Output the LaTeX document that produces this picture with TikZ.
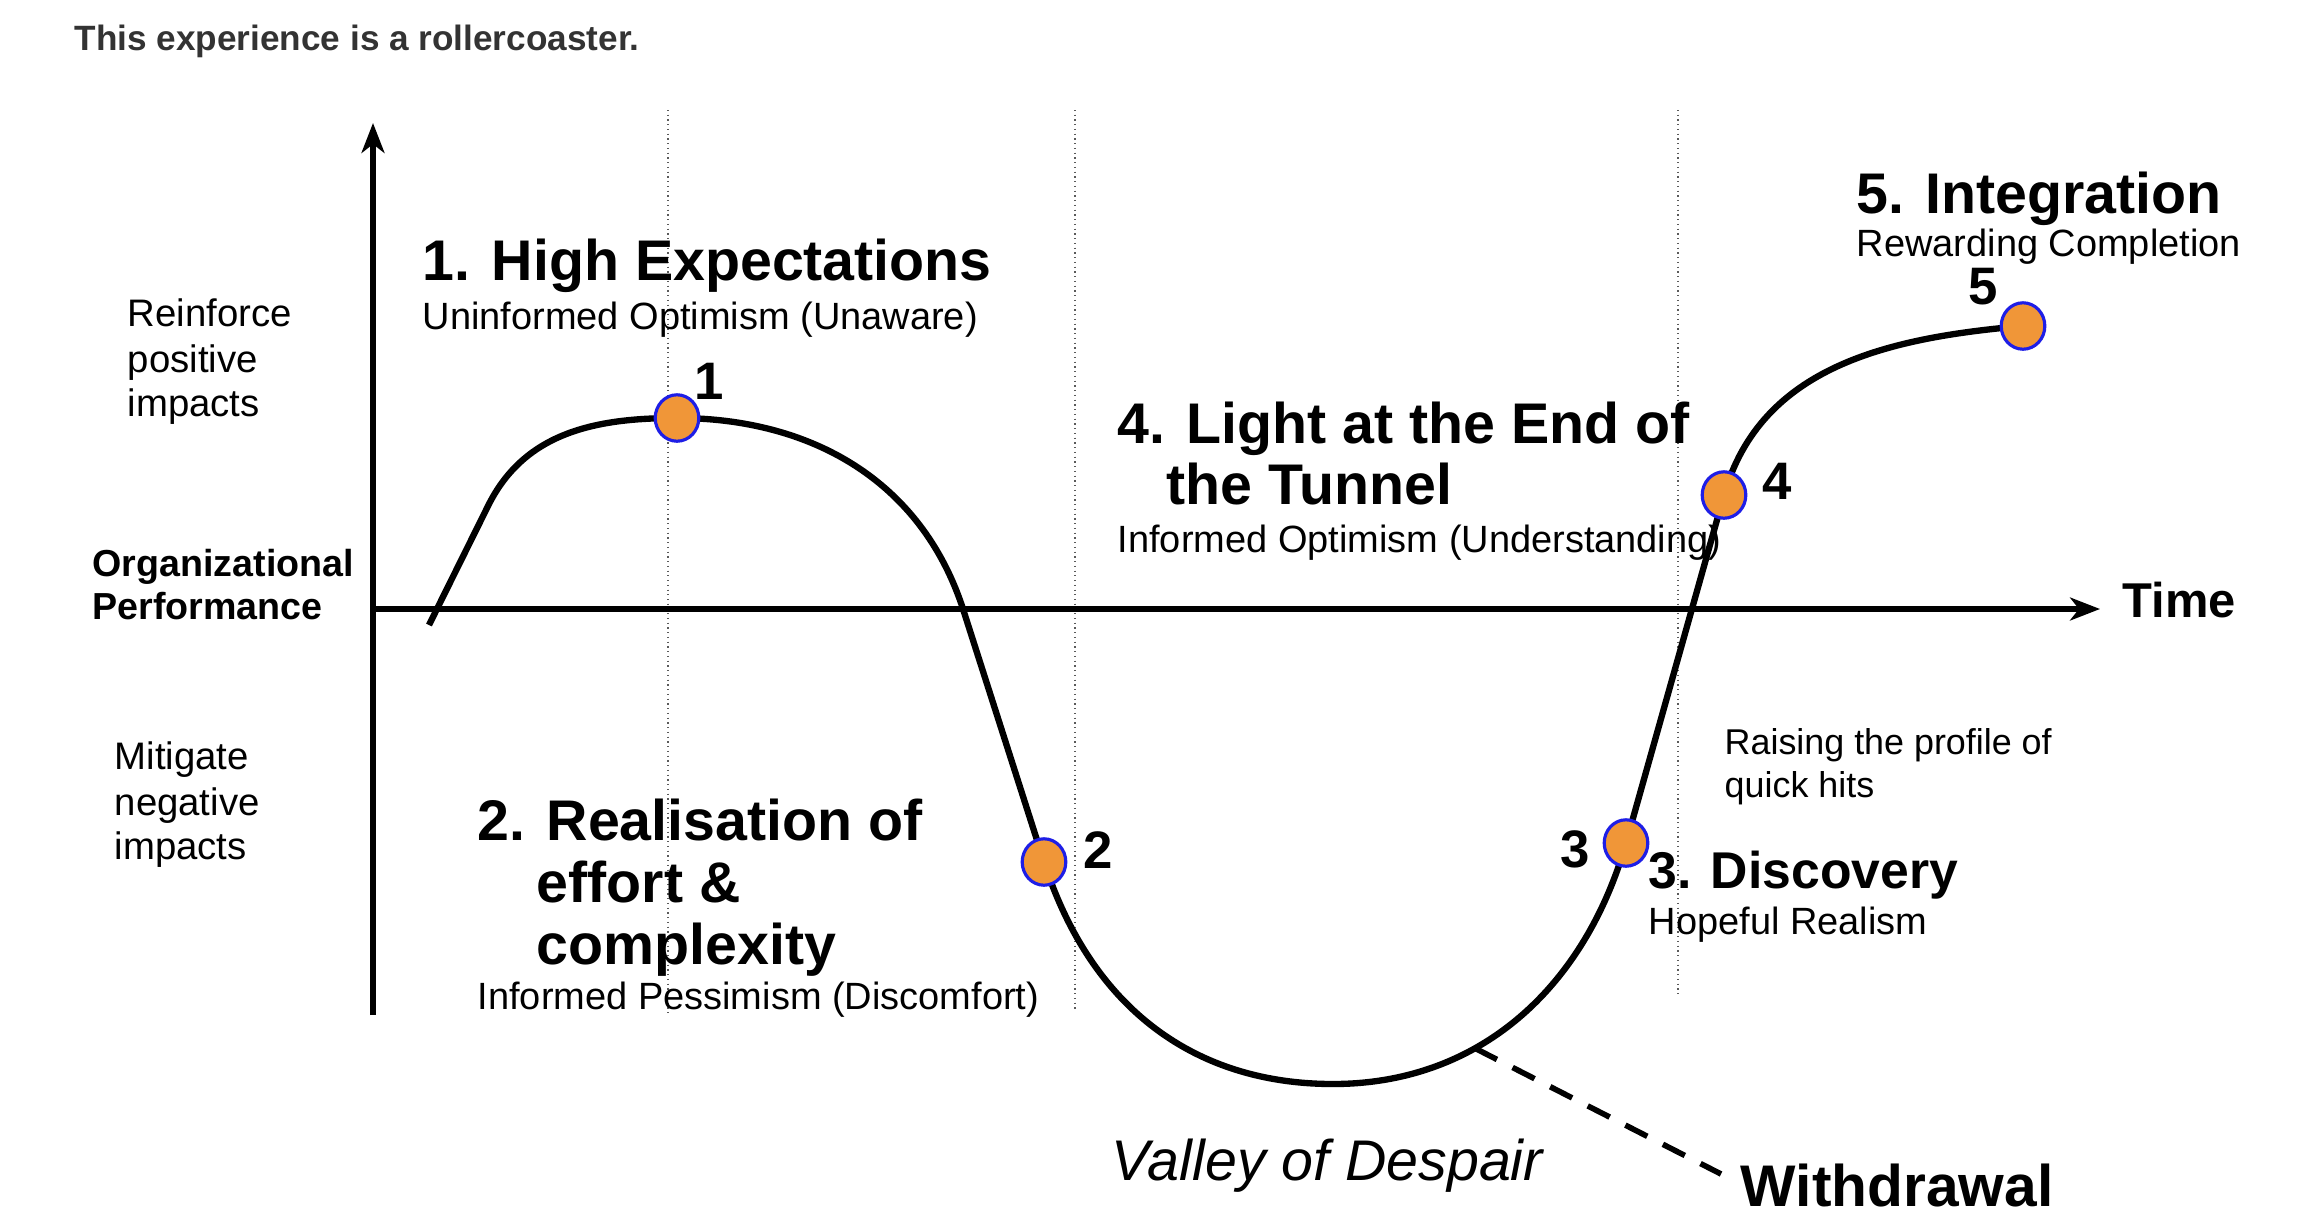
\documentclass[tikz,border=0pt]{standalone}
\usepackage{fontspec}
\setmainfont{Liberation Sans}
\usepackage{tikz}
\usetikzlibrary{positioning,shapes.geometric,arrows.meta}
\definecolor{dotorange}{RGB}{240,150,56}
\definecolor{dotblue}{RGB}{30,30,230}
\definecolor{titlegrey}{RGB}{51,51,51}
\definecolor{guidegrey}{RGB}{90,90,90}

\begin{document}
\begin{tikzpicture}[x=0.01cm, y=0.01cm,
  headtext/.style={inner sep=0, anchor=base west, font=\fontsize{16.3}{17.6}\selectfont\bfseries},
  subtext/.style={inner sep=0, anchor=base west, font=\fontsize{10.8}{13}\selectfont},
  sidetext/.style={inner sep=0, anchor=base west, font=\fontsize{10.9}{13}\selectfont},
  numtext/.style={inner sep=0, font=\fontsize{15}{18}\selectfont\bfseries},
  stagedot/.style={ellipse, fill=dotorange, draw=dotblue, line width=0.9pt, minimum width=12.4pt, minimum height=13.2pt, inner sep=0},
  guideline/.style={guidegrey, densely dotted, line width=0.35pt},
  axisline/.style={line width=1.5pt, -{Stealth[length=8.5pt,width=6.5pt,inset=2.5pt]}},
  coaster/.style={line width=1.8pt, line join=round},
  withdraw/.style={line width=1.6pt, dash pattern=on 7pt off 5pt}]

  \useasboundingbox[fill=white] (0,0) rectangle (2322,-1224);

  \node[inner sep=0, anchor=base west, text=titlegrey, font=\fontsize{10}{12}\selectfont\bfseries] (title) at (74,-51) {This experience is a rollercoaster.};

  % phase guides
  \draw[guideline] (668,-110) -- (668,-1013);
  \draw[guideline] (1075,-110) -- (1075,-1012);
  \draw[guideline] (1678,-110) -- (1678,-994);

  % axes
  \coordinate (O) at (373,-609);
  \coordinate (ytip) at (373,-123);
  \coordinate (ybot) at (373,-1015);
  \coordinate (xtip) at (2100,-609);
  \draw[axisline] (ybot) -- (ytip);
  \draw[axisline] (O) -- (xtip);
  \node[inner sep=0, anchor=base west, font=\fontsize{13.9}{16}\selectfont\bfseries] (time) at (2122,-617) {Time};

  \node[sidetext] (r1) at (127,-326) {Reinforce};
  \node[sidetext] (r2) at (127,-372) {positive};
  \node[sidetext] (r3) at (127,-416) {impacts};
  \node[sidetext, font=\fontsize{10.7}{13}\selectfont\bfseries] (op1) at (92,-576) {Organizational};
  \node[sidetext, font=\fontsize{10.7}{13}\selectfont\bfseries] (op2) at (92,-619) {Performance};
  \node[sidetext] (m1) at (114,-769) {Mitigate};
  \node[sidetext] (m2) at (114,-815) {negative};
  \node[sidetext] (m3) at (114,-859) {impacts};

  % the curve
  \coordinate (c0) at (429,-625);
  \coordinate (c0b) at (489,-504);
  \coordinate (c1) at (677,-418);
  \coordinate (cx) at (963,-609);
  \coordinate (c2) at (1044,-862);
  \coordinate (cv) at (1333,-1084);
  \coordinate (c3) at (1626,-843);
  \coordinate (c4) at (1724,-495);
  \coordinate (c5) at (2023,-326);
  \draw[coaster] (c0) -- (c0b) to[out=63,in=180] (c1) to[out=0,in=108] (cx) -- (c2)
    to[out=-72,in=180,out looseness=1.1,in looseness=0.95] (cv) to[out=0,in=-106] coordinate[pos=0.36] (w0) (c3) -- (c4) to[out=74,in=185] (c5);

  \node[stagedot] (P1) at (c1) {};
  \node[stagedot] (P2) at (c2) {};
  \node[stagedot] (P3) at (c3) {};
  \node[stagedot] (P4) at (c4) {};
  \node[stagedot] (P5) at (c5) {};
  \node[numtext, above right=0pt and 0pt of P1] (n1) {1};
  \node[numtext, right=4.5pt of P2, yshift=3.4pt] (n2) {2};
  \node[numtext, left=3.3pt of P3, yshift=-1.7pt] (n3) {3};
  \node[numtext, right=4.1pt of P4, yshift=4pt] (n4) {4};
  \node[numtext, above left=0.8pt and 2.4pt of P5] (n5) {5};

  % stages
  \node[headtext] (h1) at (422,-280) {1. High Expectations};
  \node[subtext] (s1) at (422,-329) {Uninformed Optimism (Unaware)};
  \node[headtext] (h2a) at (477,-840) {2. Realisation of};
  \node[headtext] (h2b) at (536,-902) {effort \&};
  \node[headtext] (h2c) at (536,-964) {complexity};
  \node[subtext] (s2) at (477,-1009) {Informed Pessimism (Discomfort)};
  \node[headtext, font=\fontsize{14.7}{17}\selectfont\bfseries] (h3) at (1648,-888) {3. Discovery};
  \node[subtext] (s3) at (1648,-934) {Hopeful Realism};
  \node[headtext] (h4a) at (1117,-443) {4. Light at the End of};
  \node[headtext] (h4b) at (1166,-504) {the Tunnel};
  \node[subtext] (s4) at (1117,-552) {Informed Optimism (Understanding)};
  \node[headtext] (h5) at (1856,-213) {5. Integration};
  \node[subtext] (s5) at (1856,-256) {Rewarding Completion};
  \node[subtext, font=\fontsize{10.2}{12}\selectfont] (q1) at (1724,-754) {Raising the profile of};
  \node[subtext, font=\fontsize{10.2}{12}\selectfont] (q2) at (1724,-797) {quick hits};

  \node[inner sep=0, anchor=base west, font=\fontsize{16.3}{18}\selectfont\itshape] (valley) at (1111,-1180) {Valley of Despair};
  \node[inner sep=0, anchor=base west, font=\fontsize{16.7}{18}\selectfont\bfseries] (wd) at (1740,-1206) {Withdrawal};
  \coordinate (w1) at (1721,-1174);
  \draw[withdraw] (w0) -- (w1);
\end{tikzpicture}
\end{document}
